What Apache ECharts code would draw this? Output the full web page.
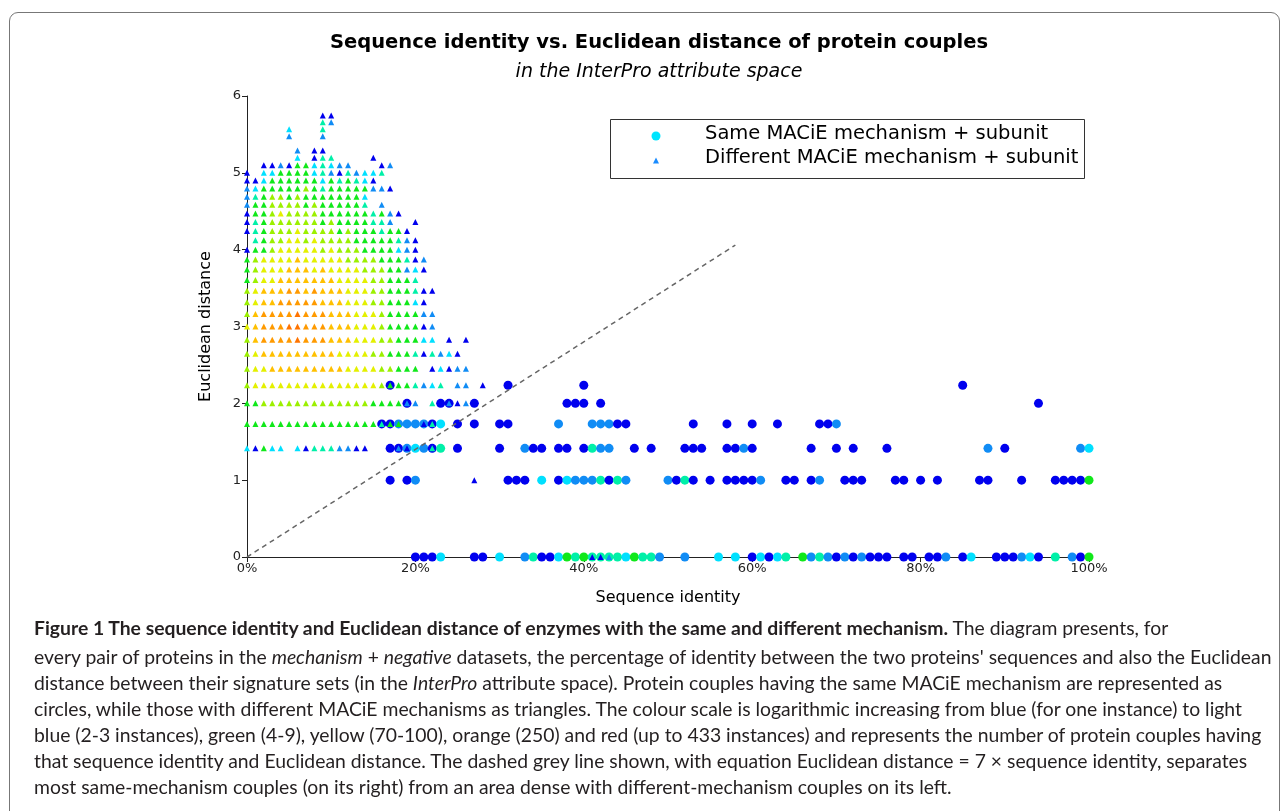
<!DOCTYPE html>
<html>
<head>
<meta charset="utf-8">
<script src="https://cdn.jsdelivr.net/npm/echarts@6/dist/echarts.min.js"></script>
<style>
  body { margin: 0; background: #fff; }
  #frame {
    position: absolute; left: 9px; top: 12px; width: 1271px; height: 900px;
    border: 1.5px solid #777; border-radius: 9px; box-sizing: border-box;
  }
  #chart { position: absolute; left: 0; top: 0; width: 1284px; height: 811px; }
  #caption {
    position: absolute; left: 34px; top: 615px;
    font-family: Lato, "Noto Sans", sans-serif; font-size: 19.35px; line-height: 26px;
    color: #231f20; white-space: nowrap;
  }
  #caption .first { margin-bottom: 3px; }
</style>
</head>
<body>
<div id="frame"></div>
<div id="chart"></div>
<div id="caption">
  <div class="first"><b>Figure 1 The sequence identity and Euclidean distance of enzymes with the same and different mechanism.</b> The diagram presents, for</div>
  <div>every pair of proteins in the <i>mechanism</i> + <i>negative</i> datasets, the percentage of identity between the two proteins' sequences and also the Euclidean</div>
  <div>distance between their signature sets (in the <i>InterPro</i> attribute space). Protein couples having the same MACiE mechanism are represented as</div>
  <div>circles, while those with different MACiE mechanisms as triangles. The colour scale is logarithmic increasing from blue (for one instance) to light</div>
  <div>blue (2-3 instances), green (4-9), yellow (70-100), orange (250) and red (up to 433 instances) and represents the number of protein couples having</div>
  <div>that sequence identity and Euclidean distance. The dashed grey line shown, with equation Euclidean distance = 7 × sequence identity, separates</div>
  <div>most same-mechanism couples (on its right) from an area dense with different-mechanism couples on its left.</div>
</div>
<script>
// euclidean distance levels (row n -> distance)
var distLevels = [0, 1, 1.414, 1.732, 2, 2.236, 2.449, 2.646, 2.828, 3, 3.162, 3.317,
  3.464, 3.606, 3.742, 3.873, 4, 4.123, 4.243, 4.359, 4.472, 4.583, 4.690, 4.796,
  4.899, 5, 5.099, 5.196, 5.292, 5.385, 5.477, 5.568, 5.657, 5.745];

// colour level per count class: 1 = one instance (blue) ... a = most (red-orange)
var levelKeys = '123456789a';
var levelColors = ['#0000ee', '#108cf5', '#00e0ff', '#00f0a8', '#10e81a',
  '#9cf000', '#e4f000', '#ffc000', '#ff9a00', '#ff7400'];

// different mechanism (triangles): one string per distance row, char index = % identity
var triRows = [
  '.........................................112',
  '...........................1',
  '31533.314442211...21..4',
  '55555555555555554552214',
  '556666666666666555522.4.212',
  '677777777777777765554234.22.1',
  '677888888888777766555.13122',
  '67888888888777766555414231',
  '689999a9998887776655533.1.1',
  '78999aa9998887776555512',
  '689999a9998887776555522',
  '6788999998887776655531',
  '67888998988877766555411',
  '567788888887777665554',
  '5677788878777766655231',
  '5677778777776666555412',
  '155677777676665555321',
  '.45667767666655555421',
  '14566676666565554551',
  '145666666565555442..1',
  '1556766665555554521',
  '255666656555554.2',
  '245665655555553',
  '235555565455555221',
  '1135555553545431',
  '1.335555342142334',
  '..11215534322...12',
  '......3.144....1',
  '......2.11',
  '',
  '.....2...2',
  '.....3...4',
  '.........42',
  '.........11'
];

// same mechanism (circles): [identity %, level] per distance row
var circRow0 = [[20,1],[21,1],[22,1],[23,3],[27,1],[28,1],[30,3],[33,2],[34,4],[35,1],[36,1],
  [37,3],[38,5],[39,4],[40,5],[41,4],[42,4],[43,4],[44,4],[45,3],[46,5],[47,4],[48,4],[49,2],
  [52,2],[56,3],[58,3],[60,1],[61,3],[62,1],[63,3],[64,4],[66,5],[67,2],[68,4],[69,2],[70,1],
  [71,2],[72,1],[73,2],[74,1],[75,1],[76,1],[78,1],[79,1],[81,1],[82,1],[83,2],[85,1],[86,3],
  [89,1],[90,1],[91,1],[92,2],[93,3],[94,1],[96,4],[98,2],[99,1],[100,5]];
var circRow1 = [[17,1],[19,1],[20,2],[31,1],[32,1],[33,1],[35,3],[37,1],[38,3],[39,2],[40,2],
  [41,2],[42,4],[43,1],[44,4],[45,2],[50,2],[51,1],[52,4],[53,1],[55,1],[57,1],[58,1],[59,1],
  [60,1],[61,2],[64,1],[65,1],[67,1],[68,2],[71,1],[72,1],[73,1],[77,1],[78,1],[80,1],[82,1],
  [87,1],[88,1],[92,1],[96,1],[97,1],[98,1],[99,1],[100,5]];
var circRow2 = [[17,1],[18,1],[19,2],[20,3],[21,2],[22,1],[23,4],[25,1],[30,1],[33,2],[34,1],
  [35,1],[37,1],[38,1],[40,1],[41,4],[42,2],[43,2],[46,1],[48,1],[52,1],[53,1],[54,1],[57,1],
  [58,1],[59,2],[60,1],[67,1],[70,1],[72,1],[76,1],[88,2],[90,1],[99,2],[100,3]];
var circRow3 = [[16,1],[17,1],[18,2],[19,2],[20,2],[21,2],[22,1],[23,3],[25,1],[27,1],[30,1],
  [31,1],[37,2],[41,2],[42,2],[43,2],[44,1],[45,1],[53,1],[57,1],[60,1],[63,1],[68,1],[69,1],[70,2]];
var circRow4 = [[19,1],[23,1],[24,1],[27,1],[38,1],[39,1],[40,1],[42,1],[94,1]];
var circRow5 = [[17,1],[31,1],[40,1],[85,1]];

// dashed separator: distance = 7 x identity
var sepLine = [[0, 0], [58, 4.06]];

var triData = [];
triRows.forEach(function (row, n) {
  row.split('').forEach(function (c, p) {
    if (c !== '.') triData.push([p, distLevels[n], levelKeys.indexOf(c)]);
  });
});
var circData = [];
[circRow0, circRow1, circRow2, circRow3, circRow4, circRow5].forEach(function (row, n) {
  row.forEach(function (d) { circData.push([d[0], distLevels[n], d[1] - 1]); });
});

var chart = echarts.init(document.getElementById('chart'));
var font = 'DejaVu Sans';
var colorOf = function (p) { return levelColors[p.value[2]]; };

chart.setOption({
  animation: false,
  title: [
    { text: 'Sequence identity vs. Euclidean distance of protein couples', left: 654, top: 28,
      textAlign: 'center',
      textStyle: { fontFamily: font, fontSize: 19.5, fontWeight: 'bold', color: '#000' } },
    { text: 'in the InterPro attribute space', left: 654, top: 58, textAlign: 'center',
      textStyle: { fontFamily: font, fontSize: 19, fontWeight: 'normal', fontStyle: 'italic', color: '#000' } }
  ],
  grid: { left: 247, right: 195, top: 96, bottom: 254 },
  xAxis: {
    type: 'value', min: 0, max: 100, interval: 20,
    name: 'Sequence identity', nameLocation: 'middle', nameGap: 33,
    nameTextStyle: { fontFamily: font, fontSize: 16, color: '#000' },
    axisLine: { lineStyle: { color: '#222' } },
    axisTick: { length: 5, lineStyle: { color: '#222' } },
    axisLabel: { formatter: '{value}%', fontFamily: font, fontSize: 13, color: '#222', margin: 5 },
    splitLine: { show: false }
  },
  yAxis: {
    type: 'value', min: 0, max: 6, interval: 1,
    name: 'Euclidean distance', nameLocation: 'middle', nameGap: 33,
    nameTextStyle: { fontFamily: font, fontSize: 16, color: '#000' },
    axisLine: { show: true, lineStyle: { color: '#222' } },
    axisTick: { show: true, length: 5, lineStyle: { color: '#222' } },
    axisLabel: { fontFamily: font, fontSize: 13, color: '#222', margin: 6 },
    splitLine: { show: false }
  },
  series: [
    { name: 'Same MACiE mechanism + subunit', type: 'scatter', symbol: 'circle', symbolSize: 9,
      clip: false, data: circData, itemStyle: { color: colorOf, opacity: 1 }, z: 2 },
    { name: 'Different MACiE mechanism + subunit', type: 'scatter', symbol: 'triangle', symbolSize: [6, 6],
      clip: false, data: triData, itemStyle: { color: colorOf, opacity: 1 }, z: 3 },
    { type: 'line', data: sepLine, symbol: 'none', z: 4,
      lineStyle: { color: '#666', width: 1.5, type: [5, 4] } }
  ],
  graphic: [
    { type: 'rect', left: 610, top: 119, shape: { width: 474, height: 59 },
      style: { fill: '#fff', stroke: '#333', lineWidth: 1 }, z: 10 },
    { type: 'circle', shape: { cx: 656, cy: 136, r: 4.5 }, style: { fill: '#00e5ff' }, z: 11 },
    { type: 'polygon', shape: { points: [[656, 157.5], [653, 163.5], [659, 163.5]] },
      style: { fill: '#1a8cff' }, z: 11 },
    { type: 'text', left: 705, top: 124, z: 11,
      style: { text: 'Same MACiE mechanism + subunit', font: '19.5px "DejaVu Sans"', fill: '#000' } },
    { type: 'text', left: 705, top: 148, z: 11,
      style: { text: 'Different MACiE mechanism + subunit', font: '19.5px "DejaVu Sans"', fill: '#000' } }
  ]
});
</script>
</body>
</html>
